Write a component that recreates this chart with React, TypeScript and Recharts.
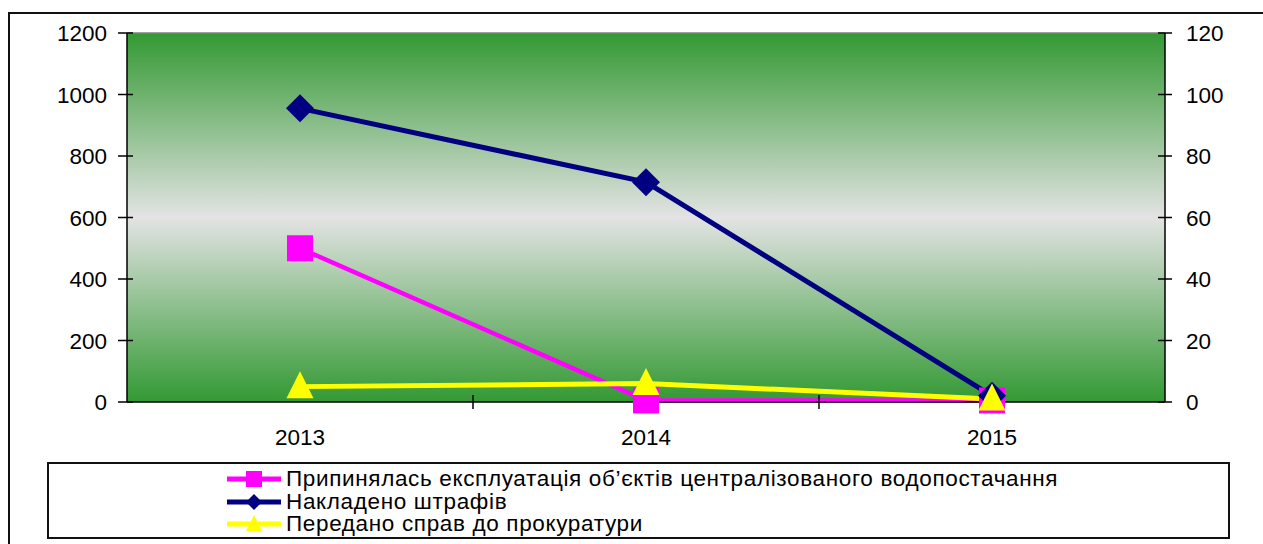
import { LineChart, Line, XAxis, YAxis, CartesianGrid, Legend, ReferenceLine } from 'recharts';

const years = ['2013', '2014', '2015'];
const stoppedObjects = [500, 5, 5];
const finesImposed = [955, 715, 20];
const casesToProsecutor = [5, 6, 1];

const leftTicks = [0, 200, 400, 600, 800, 1000, 1200];
const rightTicks = [0, 20, 40, 60, 80, 100, 120];

const SERIES = [
  { key: 'stopped', label: 'Припинялась експлуатація об’єктів централізованого водопостачання', color: '#FF00FF', shape: 'square' },
  { key: 'fines', label: 'Накладено штрафів', color: '#000080', shape: 'diamond' },
  { key: 'cases', label: 'Передано справ до прокуратури', color: '#FFFF00', shape: 'triangle' },
];

const data = years.map((y, i) => ({
  year: y,
  stopped: stoppedObjects[i],
  fines: finesImposed[i],
  cases: casesToProsecutor[i],
}));

const FONT = '"Liberation Sans", Arial, sans-serif';
const W = 1255;
const H = 536;
const PLOT_LEFT = 119;
const PLOT_RIGHT = 1157;
const BAND = (PLOT_RIGHT - PLOT_LEFT) / years.length;

function Marker({ shape, cx, cy, size, color }: { shape: string; cx: number; cy: number; size: number; color: string }) {
  const h = size / 2;
  if (shape === 'square') return <rect x={cx - h} y={cy - h} width={size} height={size} fill={color} />;
  if (shape === 'diamond') return <polygon points={`${cx},${cy - h} ${cx + h},${cy} ${cx},${cy + h} ${cx - h},${cy}`} fill={color} />;
  return <polygon points={`${cx},${cy - h} ${cx + h},${cy + h} ${cx - h},${cy + h}`} fill={color} />;
}

const dotFor = (shape: string, color: string, size: number) => (p: any) => {
  if (p.cx == null || p.cy == null) return <g key={p.key} />;
  return <Marker key={p.key} shape={shape} cx={p.cx} cy={shape === 'triangle' ? p.cy - 2 : p.cy} size={size} color={color} />;
};

function LeftTick({ x, y, payload }: any) {
  return (
    <g>
      <line x1={x - 9} x2={x + 6} y1={y} y2={y} stroke="#000" strokeWidth={1.5} />
      <text x={x - 20} y={y} dy="0.36em" textAnchor="end" fontSize={22.5} fontFamily={FONT} fill="#000">{payload.value}</text>
    </g>
  );
}

function RightTick({ x, y, payload }: any) {
  return (
    <g>
      <line x1={x - 7} x2={x + 7} y1={y} y2={y} stroke="#000" strokeWidth={1.5} />
      <text x={x + 21} y={y} dy="0.36em" textAnchor="start" fontSize={22.5} fontFamily={FONT} fill="#000">{payload.value}</text>
    </g>
  );
}

function BottomTick({ x, y, payload, index }: any) {
  return (
    <g>
      {index < years.length - 1 && (
        <line x1={x + BAND / 2} x2={x + BAND / 2} y1={y - 7} y2={y + 7} stroke="#000" strokeWidth={1.5} />
      )}
      <text x={x} y={y + 35} dy="0.36em" textAnchor="middle" fontSize={22.5} fontFamily={FONT} fill="#000">{payload.value}</text>
    </g>
  );
}

function LegendBox() {
  return (
    <div
      style={{
        width: 1183,
        height: 77,
        boxSizing: 'border-box',
        border: '2px solid #111',
        paddingTop: 4,
        fontFamily: FONT,
        fontSize: 22.5,
        letterSpacing: 0.65,
        lineHeight: '22.5px',
        color: '#000',
      }}
    >
      {SERIES.map(s => (
        <div key={s.key} style={{ display: 'flex', alignItems: 'center', height: 22.5, paddingLeft: 178 }}>
          <svg width={54} height={18} style={{ marginRight: 5, overflow: 'visible', flex: 'none' }}>
            <line x1={0} x2={54} y1={9} y2={9} stroke={s.color} strokeWidth={5} />
            <Marker shape={s.shape} cx={27} cy={s.shape === 'triangle' ? 8 : 9} size={16} color={s.color} />
          </svg>
          <span style={{ whiteSpace: 'nowrap' }}>{s.label}</span>
        </div>
      ))}
    </div>
  );
}

export default function App() {
  return (
    <div style={{ position: 'fixed', left: 8, top: 8, width: W, height: H, overflow: 'hidden', background: '#fff' }}>
      <div style={{ position: 'absolute', left: 0, top: 4, width: W + 10, height: H + 10, borderTop: '2px solid #111', borderLeft: '2px solid #111' }} />
      <LineChart width={W} height={H} data={data} margin={{ top: 25, right: 0, left: 0, bottom: 0 }}>
        <defs>
          <linearGradient id="plotBg" x1="0" y1="0" x2="0" y2="1">
            <stop offset="0%" stopColor="#339933" />
            <stop offset="50%" stopColor="#E3E3E3" />
            <stop offset="100%" stopColor="#339933" />
          </linearGradient>
        </defs>
        <CartesianGrid fill="url(#plotBg)" horizontal={false} vertical={false} yAxisId="left" />
        <XAxis
          dataKey="year"
          scale="band"
          height={65}
          axisLine={{ stroke: '#000', strokeWidth: 1.5 }}
          tickLine={false}
          tickSize={0}
          tickMargin={0}
          tick={<BottomTick />}
          interval={0}
        />
        <YAxis
          yAxisId="left"
          orientation="left"
          width={PLOT_LEFT}
          domain={[0, 1200]}
          ticks={leftTicks}
          axisLine={{ stroke: '#000', strokeWidth: 1.5 }}
          tickLine={false}
          tickSize={0}
          tickMargin={0}
          tick={<LeftTick />}
          interval={0}
        />
        <YAxis
          yAxisId="right"
          orientation="right"
          width={W - PLOT_RIGHT}
          domain={[0, 120]}
          ticks={rightTicks}
          axisLine={{ stroke: '#000', strokeWidth: 1.5 }}
          tickLine={false}
          tickSize={0}
          tickMargin={0}
          tick={<RightTick />}
          interval={0}
        />
        <ReferenceLine yAxisId="left" y={1200} stroke="#808080" strokeWidth={1.5} />
        <Legend
          content={<LegendBox />}
          width={1183}
          wrapperStyle={{ left: 39, top: 454, width: 1183 }}
        />
        <Line yAxisId="left" dataKey="stopped" name={SERIES[0].label} stroke="#FF00FF" strokeWidth={4.5}
          dot={dotFor('square', '#FF00FF', 26)} activeDot={false} isAnimationActive={false} />
        <Line yAxisId="left" dataKey="fines" name={SERIES[1].label} stroke="#000080" strokeWidth={5}
          dot={dotFor('diamond', '#000080', 28)} activeDot={false} isAnimationActive={false} />
        <Line yAxisId="right" dataKey="cases" name={SERIES[2].label} stroke="#FFFF00" strokeWidth={5}
          dot={dotFor('triangle', '#FFFF00', 27)} activeDot={false} isAnimationActive={false} />
      </LineChart>
    </div>
  );
}
